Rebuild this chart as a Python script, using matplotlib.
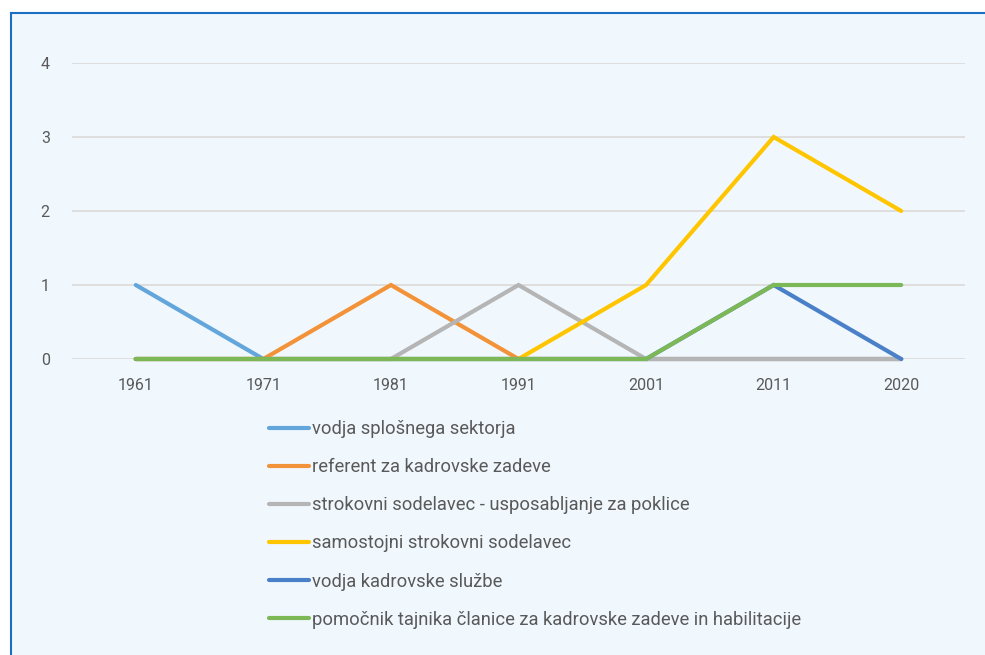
import matplotlib.pyplot as plt
from matplotlib.lines import Line2D
from matplotlib.patches import Rectangle

plt.rcParams["font.family"] = ["Roboto", "DejaVu Sans"]

years = ["1961", "1971", "1981", "1991", "2001", "2011", "2020"]
series_names = [
    "vodja splošnega sektorja",
    "referent za kadrovske zadeve",
    "strokovni sodelavec - usposabljanje za poklice",
    "samostojni strokovni sodelavec",
    "vodja kadrovske službe",
    "pomočnik tajnika članice za kadrovske zadeve in habilitacije",
]
vodja_splosnega = [1, 0, 0, 0, 0, 0, 0]
referent = [0, 0, 1, 0, 0, 0, 0]
strokovni = [0, 0, 0, 1, 0, 0, 0]
samostojni = [0, 0, 0, 0, 1, 3, 2]
vodja_kadrovske = [0, 0, 0, 0, 0, 1, 0]
pomocnik = [0, 0, 0, 0, 0, 1, 1]
series_values = [vodja_splosnega, referent, strokovni, samostojni, vodja_kadrovske, pomocnik]
colors = ["#62A6DC", "#F39339", "#B5B5B5", "#FFC600", "#4A80C8", "#7DB857"]

W, H = 985, 655
fig = plt.figure(figsize=(W / 100, H / 100), dpi=100)
fig.patch.set_facecolor("white")

# panel background with blue border on left/top
fig.patches.append(Rectangle((10 / W, 0), 1.2, 1 - 12.5 / H, transform=fig.transFigure,
                             facecolor="#F0F8FE", edgecolor="none", zorder=-5))
fig.lines.append(Line2D([10.5 / W, 10.5 / W], [0, 1 - 12.5 / H], transform=fig.transFigure,
                        color="#1B6EC2", lw=1.5, zorder=-4))
fig.lines.append(Line2D([10.5 / W, 1], [1 - 12.5 / H, 1 - 12.5 / H], transform=fig.transFigure,
                        color="#1B6EC2", lw=1.5, zorder=-4))

left, right = 72 / W, 965 / W
bottom, top = 1 - 359 / H, 1 - 63 / H
ax = fig.add_axes([left, bottom, right - left, top - bottom])
ax.set_facecolor("none")
ax.set_zorder(2)

x = list(range(len(years)))
for name, vals, c in zip(series_names, series_values, colors):
    ax.plot(x, vals, color=c, lw=3, label=name, solid_capstyle="round", solid_joinstyle="miter",
            clip_on=False)

ax.set_xlim(-0.5, len(years) - 0.5)
ax.set_ylim(0, 4)
ax.set_yticks([0, 1, 2, 3, 4])
ax.set_xticks(x)
ax.set_xticklabels(years)
ax.tick_params(axis="both", length=0, labelsize=11.5, labelcolor="#595959")
ax.tick_params(axis="y", pad=16)
ax.tick_params(axis="x", pad=14)
for s in ax.spines.values():
    s.set_visible(False)
ax.yaxis.grid(True, color="#DEDEDE", lw=1.4)
ax.set_axisbelow(True)

handles, labels = ax.get_legend_handles_labels()
leg = fig.legend(handles, labels, loc="upper left", bbox_to_anchor=(269 / W, 1 - 420 / H),
                 frameon=False, fontsize=13.2, handlelength=2.2, handletextpad=0.15,
                 labelspacing=1.1, borderpad=0, borderaxespad=0)
leg.set_zorder(3)
for t in leg.get_texts():
    t.set_color("#595959")

fig.savefig("out.png", dpi=100)
